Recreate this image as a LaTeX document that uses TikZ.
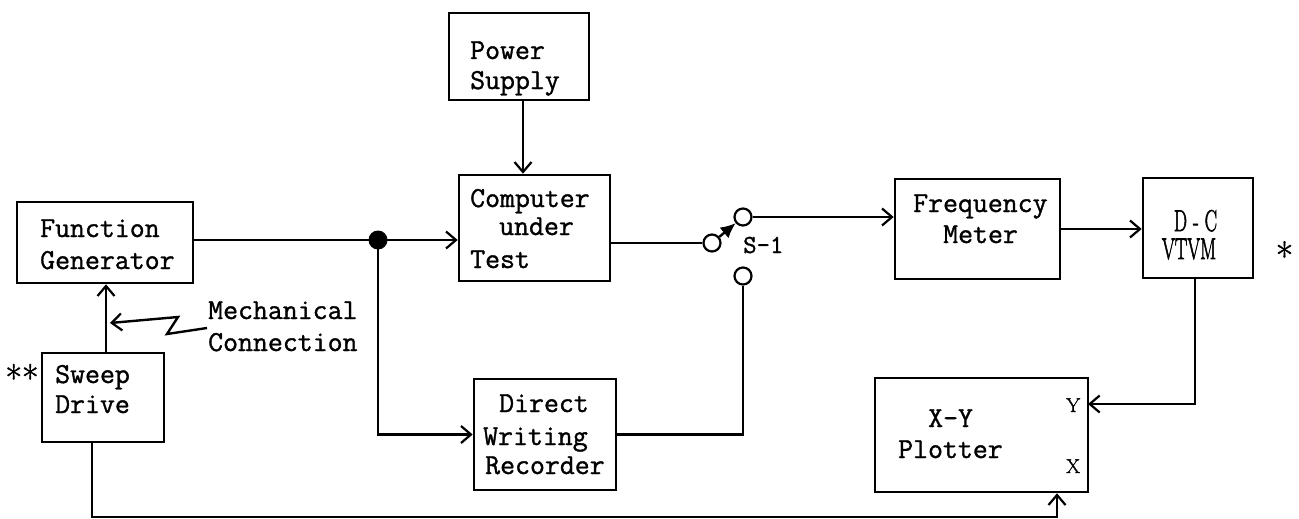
\documentclass[tikz,border=0pt]{standalone}
\usepackage{fontspec}
\usetikzlibrary{arrows.meta}
\newfontfamily\typewr{Latin Modern Mono}[FakeBold=1.2]
\newfontfamily\plainrm{Latin Modern Roman}[FakeBold=1.4]
\newfontfamily\heavyrm{Latin Modern Roman}[FakeBold=2.6]
\tikzset{
  wire/.style={line width=2.4pt},
  arr/.style={wire, -{Straight Barb[length=10pt,width=17pt,line width=2.2pt]}},
  box/.style={draw, rectangle, line width=2.6pt, inner sep=0pt},
  contact/.style={draw, circle, line width=2.2pt, minimum size=17pt, inner sep=0pt},
  tw/.style={inner sep=0pt, anchor=base west, font=\fontsize{29}{32}\selectfont\typewr},
  rm/.style={inner sep=0pt, font=\fontsize{29}{32}\selectfont\plainrm},
  meter/.style={inner sep=0pt, anchor=base, font=\fontsize{30}{32}\selectfont\heavyrm},
}
\begin{document}
\begin{tikzpicture}[x=1pt,y=-1pt]
\useasboundingbox (0,0) rectangle (1299,519);

% blocks
\node[box, minimum width=176pt, minimum height=81pt]  (fg)   at (105,242.5) {};
\node[box, minimum width=122pt, minimum height=89pt]  (sd)   at (103,397.5) {};
\node[box, minimum width=140pt, minimum height=87pt]  (ps)   at (519,56.5)  {};
\node[box, minimum width=151pt, minimum height=106pt] (cut)  at (534.5,228) {};
\node[box, minimum width=142pt, minimum height=111pt] (dwr)  at (545,434.5) {};
\node[box, minimum width=165pt, minimum height=100pt] (fm)   at (977.5,229) {};
\node[box, minimum width=110pt, minimum height=100pt] (vtvm) at (1198,228)  {};
\node[box, minimum width=213pt, minimum height=114pt] (plot) at (981.5,435) {};

% block labels
\node[tw] (fg1)  at (40,237)  {Function};
\node[tw] (fg2)  at (40,269)  {Generator};
\node[tw] (sd1)  at (55,383)  {Sweep};
\node[tw] (sd2)  at (55,413)  {Drive};
\node[tw] (ps1)  at (470,59)  {Power};
\node[tw] (ps2)  at (470,89)  {Supply};
\node[tw] (cut1) at (470,207) {Computer};
\node[tw] (cut2) at (499,235) {under};
\node[tw] (cut3) at (470,268) {Test};
\node[tw] (dwr1) at (499,412) {Direct};
\node[tw] (dwr2) at (483,445) {Writing};
\node[tw] (dwr3) at (485,474) {Recorder};
\node[tw] (fm1)  at (913,212) {Frequency};
\node[tw] (fm2)  at (943,243) {Meter};
\node[tw] (pl1)  at (928,427) {X-Y};
\node[tw] (pl2)  at (898,458) {Plotter};
\node[meter] (vt1) at (1195.5,231) {\scalebox{0.62}[1]{D\hspace{9.7pt}-\hspace{9.7pt}C}};
\node[meter] (vt2) at (1189,259)   {\scalebox{0.62}[1]{VTVM}};
\node[rm, anchor=base west, font=\fontsize{20}{22}\selectfont\plainrm] (ply) at (1066,412) {Y};
\node[rm, anchor=base west, font=\fontsize{20}{22}\selectfont\plainrm] (plx) at (1066,473) {X};
\node[rm, font=\fontsize{38}{40}\selectfont\plainrm] (star1) at (1284.5,255.5) {*};
\node[rm, font=\fontsize{36}{40}\selectfont\plainrm] (star2) at (22,377.5) {**};
\node[tw] (mc1) at (208,319) {Mechanical};
\node[tw] (mc2) at (208,351) {Connection};
\node[tw, font=\fontsize{26}{28}\selectfont\typewr] (s1) at (743,253) {S-1};

% junction and switch S-1
\fill (378,240) circle (9.5pt);
\coordinate (dot) at (378,240);
\node[contact] (c1) at (712,243) {};
\node[contact] (c2) at (743,217) {};
\node[contact] (c3) at (743,276) {};

% helper points
\coordinate (xps)  at (523,0);
\coordinate (xsd)  at (106,0);
\coordinate (xsdb) at (92,0);
\coordinate (xpx)  at (1057,0);
\coordinate (ybot) at (0,517);
\coordinate (py)   at (1088,404);
\coordinate (mstart) at (207,328);

% signal paths
\draw[wire] (fg.east |- dot) -- (dot);
\draw[arr] (dot) -- (dot -| cut.west);
\draw[arr] (dot) |- (dwr.west);
\draw[arr] (ps.south -| xps) -- (cut.north -| xps);
\draw[wire] (cut.east |- c1) -- (c1);
\draw[line width=2.4pt, -{Latex[length=15pt,width=14pt]}] (c1) -- (c2);
\draw[arr] (c2) -- (c2 -| fm.west);
\draw[wire] (c3) |- (dwr.east);
\draw[arr] (fm.east) -- (fm.east -| vtvm.west);
\draw[arr] (vtvm.south -| 1195,0) |- (py);
\draw[arr] (sd.north -| xsd) -- (fg.south -| xsd);
\draw[arr] (mstart) -- (167,334) -- (178,317) -- (110,323);
\draw[arr] (sd.south -| xsdb) |- (xpx |- ybot) -- (plot.south -| xpx);
\end{tikzpicture}
\end{document}
